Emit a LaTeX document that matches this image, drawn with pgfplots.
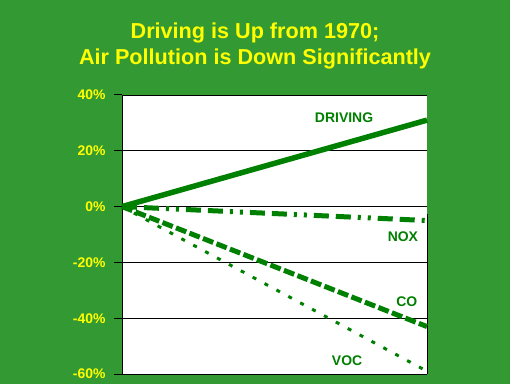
\documentclass[border=0pt]{standalone}
\usepackage{pgfplots}
\pgfplotsset{compat=1.18}
\usepackage{fontspec}
\setmainfont{Liberation Sans}
\definecolor{bg}{HTML}{339933}
\definecolor{ln}{HTML}{008000}
\definecolor{ttl}{HTML}{FFFF00}
\begin{document}
\begin{tikzpicture}[x=1bp,y=1bp]
\fill[bg] (0,0) rectangle (510,384);
\useasboundingbox (0,0) rectangle (510,384);
\fill[white] (122,10) rectangle (427,289);
\node[text=ttl, font=\fontsize{21.7}{27}\selectfont\bfseries, align=center] at (255,338) {Driving is Up from 1970;\\Air Pollution is Down Significantly};
\begin{axis}[
  at={(122bp,10bp)}, anchor=south west,
  scale only axis, width=305bp, height=279bp,
  xmin=0, xmax=1, ymin=-60, ymax=40,
  axis x line*=bottom, axis y line*=left,
  axis line style={black, line width=1bp},
  xtick=\empty,
  ytick={-60,-40,-20,0,20,40},
  yticklabels={-60\%,-40\%,-20\%,0\%,20\%,40\%},
  ymajorgrids, grid style={black, line width=0.9bp},
  tick align=outside, major tick length=8bp,
  tick style={black, line width=1bp},
  yticklabel style={text=ttl, font=\bfseries\fontsize{14}{14}\selectfont, xshift=-5bp},
  clip=false,
]
\draw[black, line width=1bp] (axis cs:0,-60) -- ++(0,-7bp);
\draw[black, line width=1bp] (axis cs:1,-60) -- ++(0,-7bp);
\addplot[ln, line width=5.5bp] coordinates {(0,0) (1,31)};
\addplot[ln, line width=5bp, dash pattern=on 15bp off 7bp on 15bp off 7bp on 3bp off 7bp on 3bp off 7bp] coordinates {(0,0) (1,-5)};
\addplot[ln, line width=5bp, dash pattern=on 11bp off 3.5bp] coordinates {(0,0) (1,-43)};
\addplot[ln, line width=3bp, dash pattern=on 4bp off 9.5bp] coordinates {(0,0) (1,-59)};
\node[text=ln, font=\bfseries\fontsize{14}{14}\selectfont] at (axis cs:0.728,31.9) {DRIVING};
\node[text=ln, font=\bfseries\fontsize{14}{14}\selectfont] at (axis cs:0.921,-10.75) {NOX};
\node[text=ln, font=\bfseries\fontsize{14}{14}\selectfont] at (axis cs:0.934,-34) {CO};
\node[text=ln, font=\bfseries\fontsize{14}{14}\selectfont] at (axis cs:0.738,-55.2) {VOC};
\end{axis}
\end{tikzpicture}
\end{document}
